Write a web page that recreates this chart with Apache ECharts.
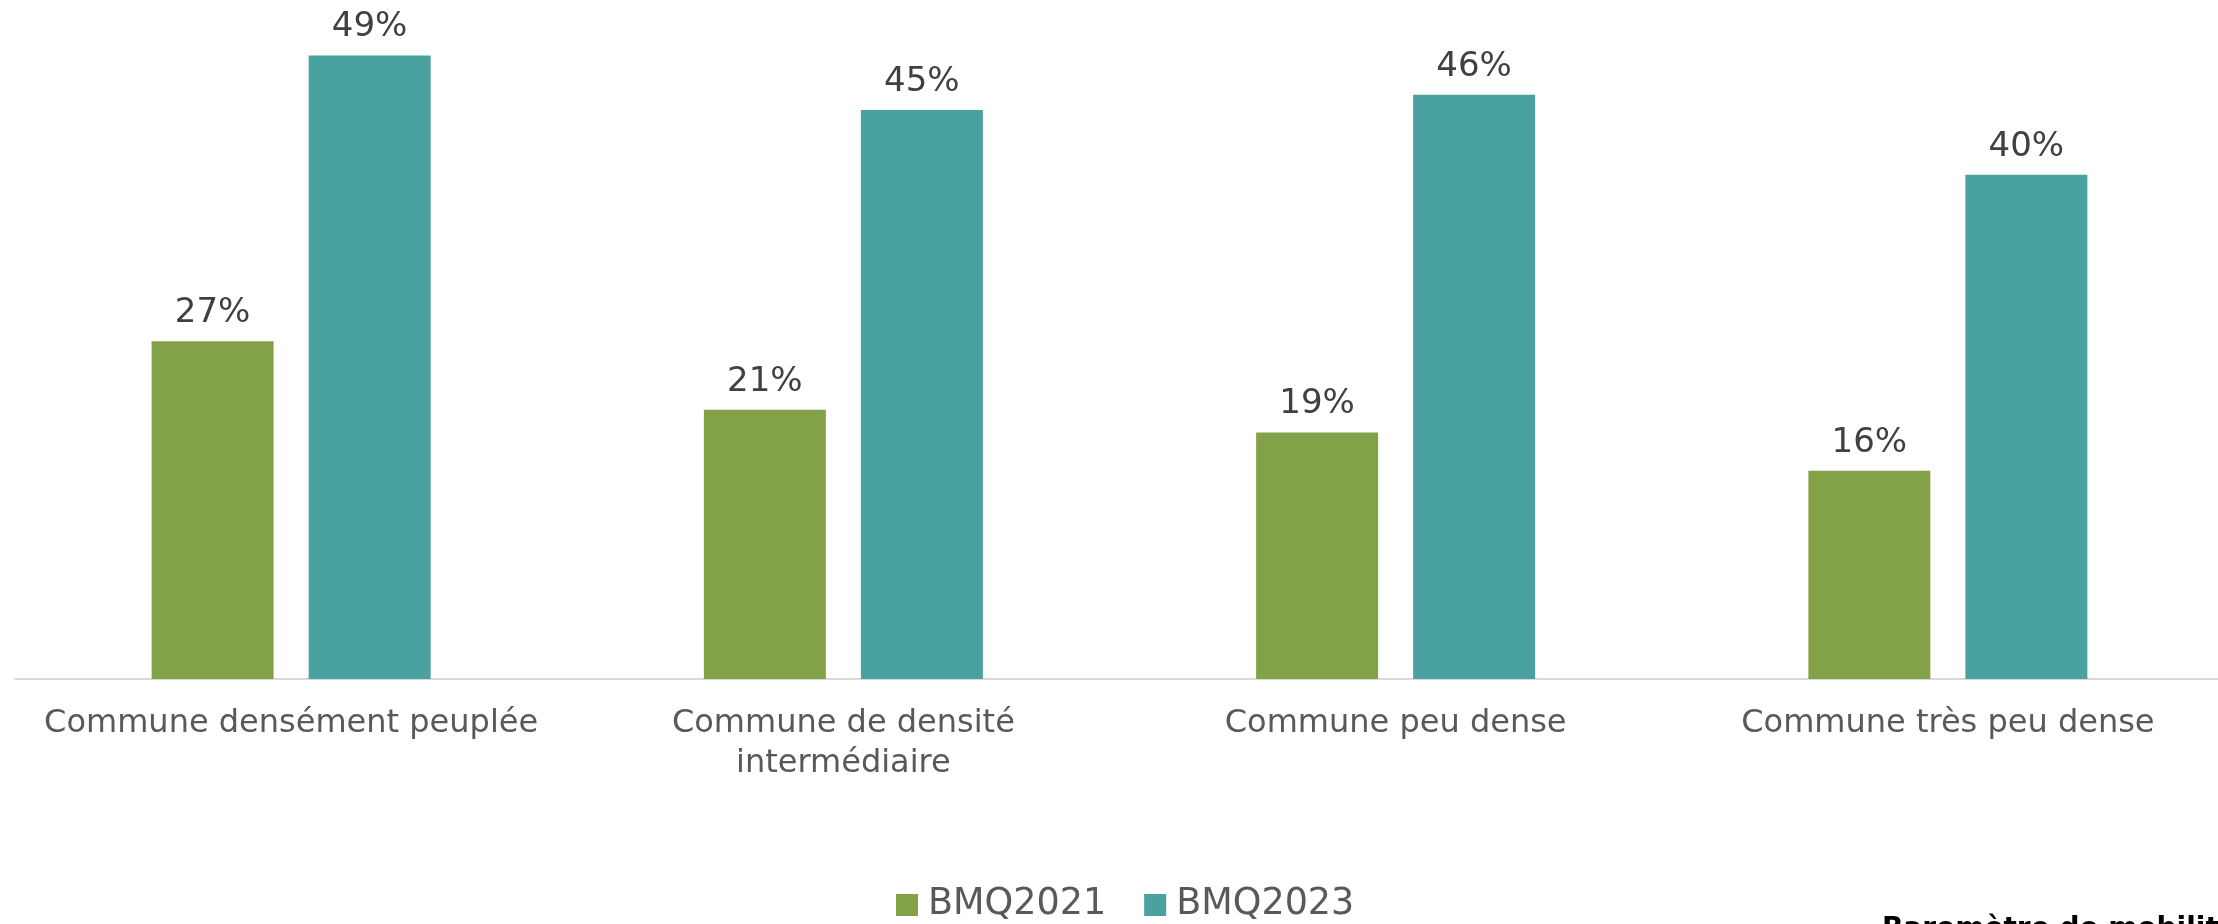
<!DOCTYPE html>
<html>
<head>
<meta charset="utf-8">
<script src="https://cdn.jsdelivr.net/npm/echarts@6/dist/echarts.min.js"></script>
<style>
html, body { margin: 0; padding: 0; background: #fff; overflow: hidden; }
/* a touch wider than the window: the plot runs past the right edge */
#chart { width: 2224px; height: 924px; }
</style>
</head>
<body>
<div id="chart"></div>
<script>
// categories and values (percent)
var categories = [
    'Commune densément peuplée',
    'Commune de densité\nintermédiaire',
    'Commune peu dense',
    'Commune très peu dense'
]
var seriesNames = ['BMQ2021', 'BMQ2023']
var bmq2021 = [26.6, 21.2, 19.4, 16.4]
var bmq2023 = [49.1, 44.8, 46.0, 39.7]
var colors = ['#83a248', '#4aa2a0']

var chart = echarts.init(document.getElementById('chart'))

function barSeries(name, data, color) {
    return {
        name: name,
        type: 'bar',
        data: data,
        barWidth: 122,
        barGap: '28.7%',
        itemStyle: { color: color },
        label: {
            show: true,
            position: 'top',
            distance: 11,
            color: '#404040',
            fontSize: 34,
            fontFamily: 'DejaVu Sans',
            formatter: function (p) {
                return Math.round(p.value) + '%'
            }
        }
    }
}

chart.setOption({
    animation: false,
    textStyle: { fontFamily: 'DejaVu Sans' },
    grid: {
        left: 15,
        right: 0,
        top: 44,
        bottom: 245
    },
    legend: {
        data: seriesNames,
        top: 879,
        left: 891,
        icon: 'rect',
        itemWidth: 22,
        itemHeight: 22,
        itemGap: 38,
        textStyle: {
            color: '#595959',
            fontSize: 36.5,
            lineHeight: 42,
            padding: [0, 0, 0, 5]
        }
    },
    xAxis: {
        type: 'category',
        data: categories,
        axisLine: { lineStyle: { color: '#d9d9d9', width: 2 } },
        axisTick: { show: false },
        axisLabel: {
            color: '#595959',
            fontSize: 32,
            lineHeight: 40,
            margin: 25,
            interval: 0
        }
    },
    yAxis: {
        type: 'value',
        min: 0,
        max: 50,
        show: false,
        splitLine: { show: false }
    },
    graphic: [{
        type: 'text',
        left: 1882,
        top: 916,
        style: {
            text: 'Baromètre de mobilité',
            font: 'bold 28px "DejaVu Sans"',
            fill: '#000'
        }
    }],
    series: [
        barSeries(seriesNames[0], bmq2021, colors[0]),
        barSeries(seriesNames[1], bmq2023, colors[1])
    ]
})
</script>
</body>
</html>
